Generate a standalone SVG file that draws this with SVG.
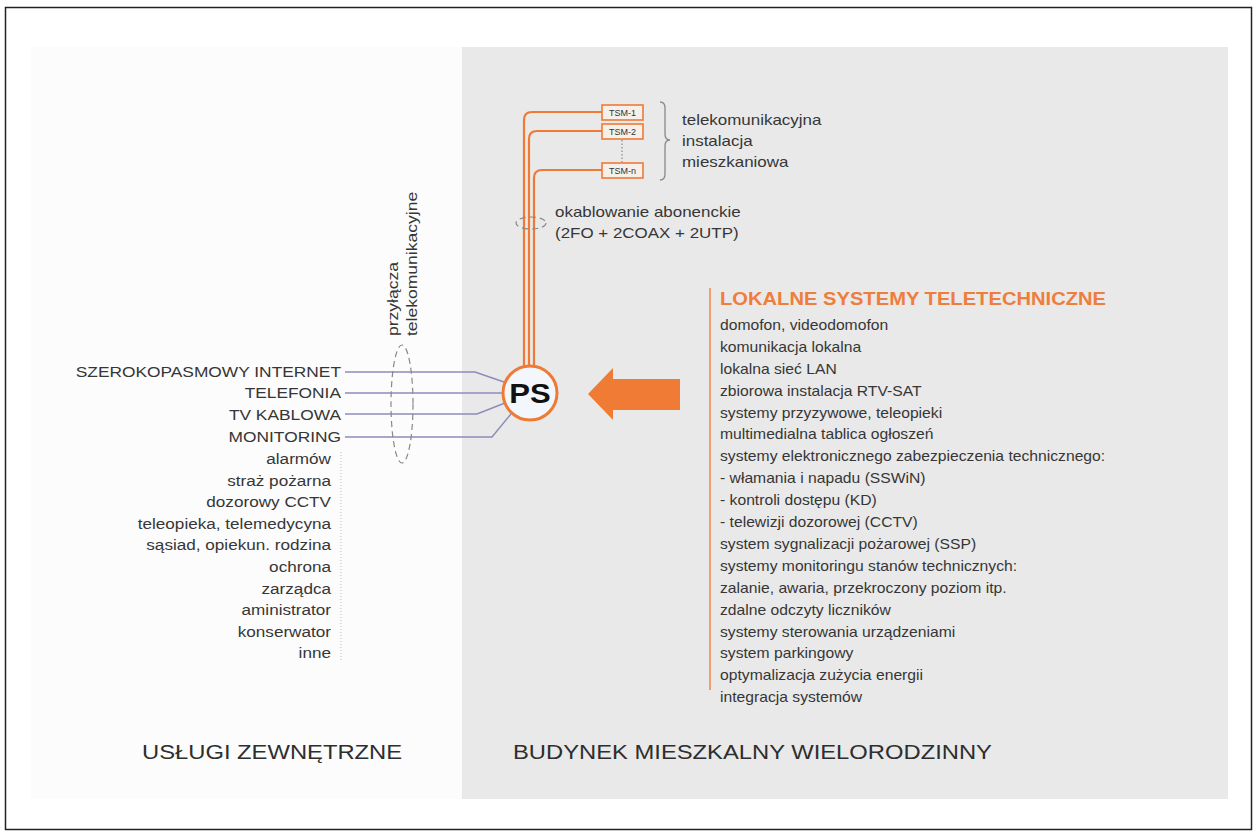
<svg xmlns="http://www.w3.org/2000/svg" width="1254" height="832" viewBox="0 0 1254 832">
<style>
text{font-family:"Liberation Sans",Arial,Helvetica,sans-serif;fill:#363636}
.cap{font-size:15.5px;text-anchor:end}
.lst{font-size:15.3px;text-anchor:end}
.rl{font-size:14px}
.ttl{font-size:18px;font-weight:bold;fill:#ef7d3c}
.big{font-size:20.5px;fill:#2e2e2e}
.sm{font-size:15px}
.tsm{font-size:9px;fill:#333;text-anchor:middle}
.wire{fill:none;stroke:#ee7a36;stroke-width:2.2}
.svc{fill:none;stroke:#8c8cbc;stroke-width:1.4}
.dash{fill:none;stroke:#888;stroke-width:1.2;stroke-dasharray:6 4}
.box{fill:#f7f0ea;stroke:#ee7a36;stroke-width:1.6}
</style>
<rect x="0" y="0" width="1254" height="832" fill="#ffffff"/>
<rect x="5.5" y="7.5" width="1246" height="822" fill="none" stroke="#222" stroke-width="1.5"/>
<rect id="panel-left" x="31" y="47" width="431" height="752" fill="#fcfcfc"/>
<rect id="panel-right" x="462" y="47" width="766" height="752" fill="#e9e9e9"/>

<g id="connectors">
  <path class="wire" d="M524,366 V120 Q524,112 532,112 H602"/>
  <path class="wire" d="M529,366 V139 Q529,131 537,131 H602"/>
  <path class="wire" d="M534,366 V178 Q534,170 542,170 H602"/>
  <path class="svc" d="M345,372 H475 L504,382"/>
  <path class="svc" d="M345,393 H503"/>
  <path class="svc" d="M345,414 H477 L505,403"/>
  <path class="svc" d="M345,437 H492 L511,414"/>
  <path d="M622,140 V162" fill="none" stroke="#777" stroke-width="1" stroke-dasharray="1.5 2"/>
  <ellipse cx="402" cy="404" rx="11" ry="59" class="dash"/>
  <ellipse cx="531" cy="223" rx="15" ry="6" class="dash" stroke-dasharray="4 3"/>
  <path d="M341,452 V660" fill="none" stroke="#bbb" stroke-width="1" stroke-dasharray="1 2"/>
  <path d="M660,102 Q665,102 665,108 V134 Q665,140 670,140 Q665,140 665,146 V174 Q665,180 660,180" fill="none" stroke="#888" stroke-width="1.3"/>
  <polygon points="588,394 613,368 613,379 680,379 680,410 613,410 613,420" fill="#ef7b35"/>
</g>

<g id="tsm-1"><rect class="box" x="602" y="105" width="41" height="15"/><text class="tsm" x="622.5" y="116">TSM-1</text></g>
<g id="tsm-2"><rect class="box" x="602" y="124" width="41" height="15"/><text class="tsm" x="622.5" y="135">TSM-2</text></g>
<g id="tsm-n"><rect class="box" x="602" y="163" width="41" height="15"/><text class="tsm" x="622.5" y="174">TSM-n</text></g>

<g id="ps">
  <circle cx="530" cy="393" r="27" fill="#f3f6fa" stroke="#ee7a36" stroke-width="3"/>
  <g transform="translate(530,403) scale(1.15,1)"><text x="0" y="0" font-size="27" font-weight="bold" text-anchor="middle" style="fill:#111">PS</text></g>
</g>

<g id="label-instalacja" transform="translate(682,0) scale(1.13,1)">
  <text class="sm" x="0" y="125">telekomunikacyjna</text>
  <text class="sm" x="0" y="146">instalacja</text>
  <text class="sm" x="0" y="167">mieszkaniowa</text>
</g>

<g id="label-okablowanie" transform="translate(555,0) scale(1.13,1)">
  <text class="sm" x="0" y="217">okablowanie abonenckie</text>
  <text class="sm" x="0" y="238">(2FO + 2COAX + 2UTP)</text>
</g>

<g id="label-przylacza" transform="translate(398,336) rotate(-90) scale(1.21,1)">
  <text x="0" y="0" font-size="14.5">przyłącza</text>
  <text x="0" y="19" font-size="14.5">telekomunikacyjne</text>
</g>

<g id="services" transform="translate(341,0) scale(1.12,1)">
  <text class="cap" x="0" y="377">SZEROKOPASMOWY INTERNET</text>
  <text class="cap" x="0" y="398">TELEFONIA</text>
  <text class="cap" x="0" y="420">TV KABLOWA</text>
  <text class="cap" x="0" y="442">MONITORING</text>
</g>

<g id="monitoring-list" transform="translate(331,0) scale(1.12,1)">
  <text class="lst" x="0" y="464">alarmów</text>
  <text class="lst" x="0" y="485.6">straż pożarna</text>
  <text class="lst" x="0" y="507.2">dozorowy CCTV</text>
  <text class="lst" x="0" y="528.8">teleopieka, telemedycyna</text>
  <text class="lst" x="0" y="550.4">sąsiad, opiekun. rodzina</text>
  <text class="lst" x="0" y="572">ochrona</text>
  <text class="lst" x="0" y="593.6">zarządca</text>
  <text class="lst" x="0" y="615.2">aministrator</text>
  <text class="lst" x="0" y="636.8">konserwator</text>
  <text class="lst" x="0" y="658.4">inne</text>
</g>

<g id="local-systems">
  <rect x="709" y="288" width="2" height="402" fill="#f0a070"/>
  <g transform="translate(720,0) scale(1.12,1)">
    <text class="ttl" x="0" y="305">LOKALNE SYSTEMY TELETECHNICZNE</text>
    <text class="rl" x="0" y="330">domofon, videodomofon</text>
    <text class="rl" x="0" y="351.9">komunikacja lokalna</text>
    <text class="rl" x="0" y="373.8">lokalna sieć LAN</text>
    <text class="rl" x="0" y="395.7">zbiorowa instalacja RTV-SAT</text>
    <text class="rl" x="0" y="417.6">systemy przyzywowe, teleopieki</text>
    <text class="rl" x="0" y="439.5">multimedialna tablica ogłoszeń</text>
    <text class="rl" x="0" y="461.4">systemy elektronicznego zabezpieczenia technicznego:</text>
    <text class="rl" x="0" y="483.3">- włamania i napadu (SSWiN)</text>
    <text class="rl" x="0" y="505.2">- kontroli dostępu (KD)</text>
    <text class="rl" x="0" y="527.1">- telewizji dozorowej (CCTV)</text>
    <text class="rl" x="0" y="549">system sygnalizacji pożarowej (SSP)</text>
    <text class="rl" x="0" y="570.9">systemy monitoringu stanów technicznych:</text>
    <text class="rl" x="0" y="592.8">zalanie, awaria, przekroczony poziom itp.</text>
    <text class="rl" x="0" y="614.7">zdalne odczyty liczników</text>
    <text class="rl" x="0" y="636.6">systemy sterowania urządzeniami</text>
    <text class="rl" x="0" y="658.5">system parkingowy</text>
    <text class="rl" x="0" y="680.4">optymalizacja zużycia energii</text>
    <text class="rl" x="0" y="702.3">integracja systemów</text>
  </g>
</g>

<g id="label-uslugi" transform="translate(142,0) scale(1.16,1)"><text class="big" x="0" y="759">USŁUGI ZEWNĘTRZNE</text></g>
<g id="label-budynek" transform="translate(513,0) scale(1.16,1)"><text class="big" x="0" y="759">BUDYNEK MIESZKALNY WIELORODZINNY</text></g>
</svg>
